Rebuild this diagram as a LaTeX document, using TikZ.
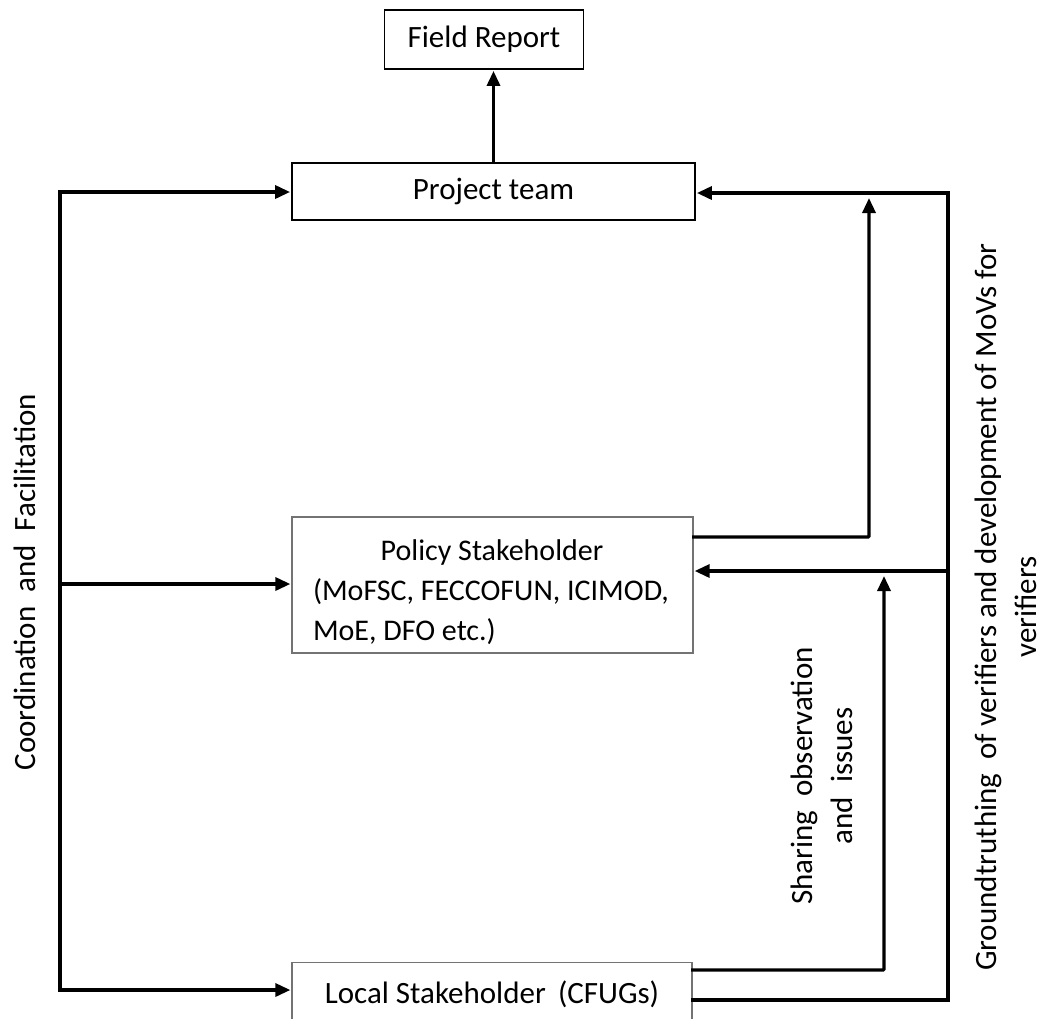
\documentclass[tikz,border=0pt]{standalone}
\usepackage{fontspec}
\setmainfont{Carlito}
\usetikzlibrary{arrows.meta,calc}
\begin{document}
\begin{tikzpicture}[x=1pt,y=-1pt,
  font=\fontsize{31}{40}\selectfont,
  darkbox/.style={draw=black,line width=1.8pt,rectangle,inner sep=0pt},
  greybox/.style={draw=black!55,line width=1.3pt,rectangle,inner sep=0pt},
  link/.style={line width=3.3pt,line cap=rect},
  arr/.style={link,-{Triangle[length=15pt,width=13pt]},shorten >=1pt}
]
\useasboundingbox (0,0) rectangle (1043,1018);
\clip (0,0) rectangle (1043,1018);
\fill[white] (0,0) rectangle (1043,1018);

% boxes
\node[darkbox,minimum width=199pt,minimum height=59pt] (fr) at (484,39.5) {Field Report};
\node[darkbox,minimum width=403pt,minimum height=57pt] (pt) at (493.5,191.5) {Project team};
\node[greybox,minimum width=401pt,minimum height=136pt] (ps) at (492.5,585) {};
\node[text width=380pt,align=flush left,inner sep=0pt,font=\fontsize{30}{40}\selectfont] (pstext) at (503,592)
  {\hfill Policy Stakeholder\hfill\hspace*{22pt}\null\\(MoFSC, FECCOFUN, ICIMOD,\\MoE, DFO etc.)};
\node[greybox,minimum width=400pt,minimum height=64pt,anchor=north] (ls) at (492,962) {};
\node (lstext) at (492,994) {Local Stakeholder\, (CFUGs)};

% labels
\node[rotate=90] (coord) at (25,582) {Coordination\ \ and\ \ Facilitation};
\node[rotate=90,align=flush center] (sharing) at (822,776) {Sharing\ \ observation\\and\ \ issues};
\node[rotate=90,align=flush center] (ground) at (1006,607) {Groundtruthing\ \ of verifiers and development of MoVs for\\verifiers};

% coordinates
\coordinate (L1) at (60,192);
\coordinate (L2) at (60,584);
\coordinate (L3) at (60,990);
\coordinate (R1) at (948,193);
\coordinate (R2) at (948,571);
\coordinate (R3) at (948,1000);
\coordinate (P1) at (869,537);
\coordinate (S1) at (884,970);

% field report
\draw[arr] (pt.north) -- (pt.north |- fr.south);

% left coordination
\draw[link] (L1) -- (L3);
\draw[arr] (L1) -- (L1 -| pt.west);
\draw[arr] (L2) -- (L2 -| ps.west);
\draw[arr] (L3) -- (L3 -| ls.west);

% right groundtruthing
\draw[link] (R1) -- (R3);
\draw[arr] (R1) -- (R1 -| pt.east);
\draw[arr] (R2) -- (R2 -| ps.east);
\draw[link] (R3 -| ls.east) -- (R3);

% policy -> project team
\draw[arr,rounded corners=1pt] (P1 -| ps.east) -- (P1) -- ($(P1 |- R1)+(0,4)$);

% local -> policy
\draw[arr,rounded corners=1pt] (S1 -| ls.east) -- (S1) -- ($(S1 |- R2)+(0,4)$);
\end{tikzpicture}
\end{document}
